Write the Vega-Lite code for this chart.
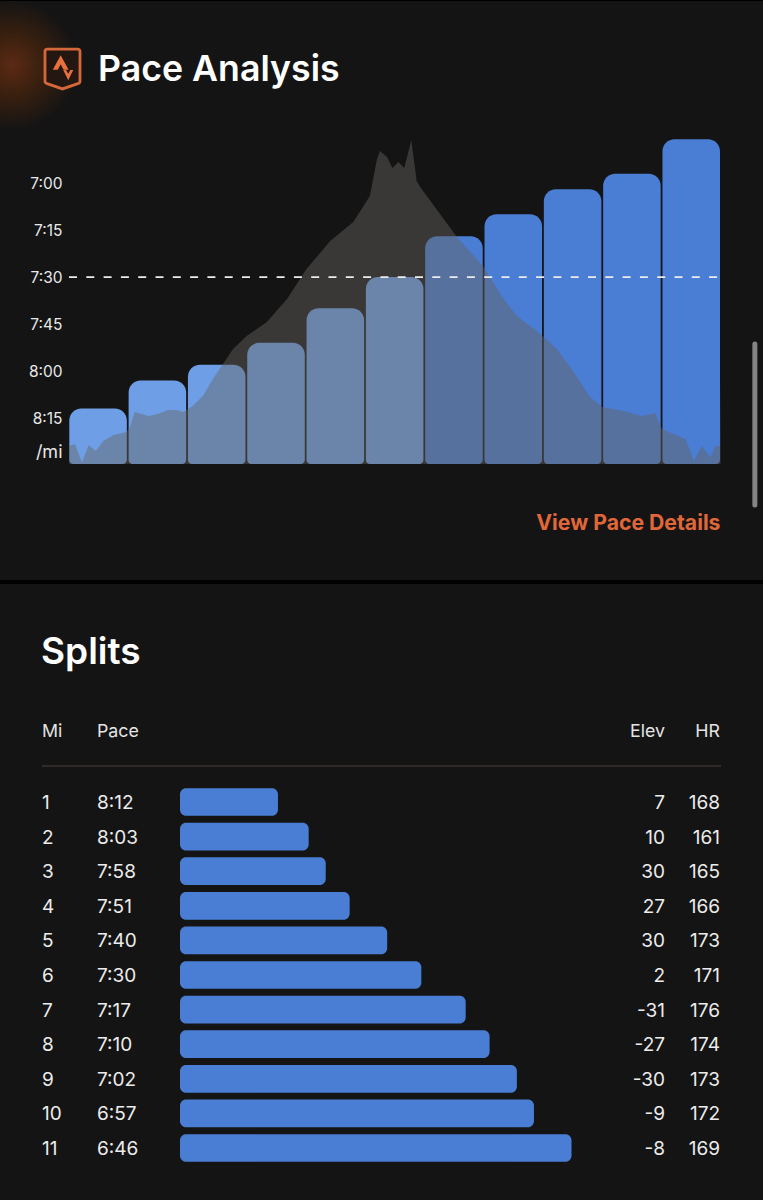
{
"$schema":"https://vega.github.io/schema/vega-lite/v6.json",
"background":"#000000",
"padding":{"left":0,"right":0,"top":1,"bottom":0},
"spacing":4,
"config":{"view":{"stroke":null,"fill":"#141414"},"concat":{"spacing":4},"text":{"font":"Inter"}},
"datasets":{
"splits":[
{"mile":1,"pace":"8:12","seconds":492,"elev":7,"hr":168},
{"mile":2,"pace":"8:03","seconds":483,"elev":10,"hr":161},
{"mile":3,"pace":"7:58","seconds":478,"elev":30,"hr":165},
{"mile":4,"pace":"7:51","seconds":471,"elev":27,"hr":166},
{"mile":5,"pace":"7:40","seconds":460,"elev":30,"hr":173},
{"mile":6,"pace":"7:30","seconds":450,"elev":2,"hr":171},
{"mile":7,"pace":"7:17","seconds":437,"elev":-31,"hr":176},
{"mile":8,"pace":"7:10","seconds":430,"elev":-27,"hr":174},
{"mile":9,"pace":"7:02","seconds":422,"elev":-30,"hr":173},
{"mile":10,"pace":"6:57","seconds":417,"elev":-9,"hr":172},
{"mile":11,"pace":"6:46","seconds":406,"elev":-8,"hr":169}],
"profile":[
{"d":0,"e":18},{"d":0.1,"e":20},{"d":0.22,"e":1.5},{"d":0.33,"e":19},{"d":0.45,"e":13},{"d":0.58,"e":23},{"d":0.75,"e":29},{"d":0.97,"e":32},{"d":1.03,"e":37},{"d":1.11,"e":52},{"d":1.34,"e":48},{"d":1.5,"e":50},{"d":1.67,"e":54},{"d":1.82,"e":54},{"d":1.93,"e":52},{"d":2.09,"e":58},{"d":2.26,"e":68},{"d":2.43,"e":85},{"d":2.6,"e":100},{"d":2.77,"e":115},{"d":3,"e":128},{"d":3.34,"e":142},{"d":3.68,"e":165},{"d":4.01,"e":195},{"d":4.41,"e":223},{"d":4.8,"e":242},{"d":5.08,"e":268},{"d":5.2,"e":305},{"d":5.25,"e":313},{"d":5.37,"e":307},{"d":5.46,"e":296},{"d":5.56,"e":302},{"d":5.66,"e":296},{"d":5.78,"e":324},{"d":5.87,"e":283},{"d":5.93,"e":277},{"d":6.55,"e":227},{"d":6.99,"e":198},{"d":7.34,"e":165},{"d":7.56,"e":148},{"d":7.9,"e":133},{"d":8.24,"e":115},{"d":8.52,"e":92},{"d":8.8,"e":67},{"d":9,"e":57},{"d":9.36,"e":53},{"d":9.67,"e":48},{"d":9.9,"e":51},{"d":10.01,"e":35},{"d":10.41,"e":25},{"d":10.55,"e":3},{"d":10.68,"e":18},{"d":10.83,"e":7},{"d":10.92,"e":18},{"d":10.99,"e":18},{"d":11,"e":92}]
},
"vconcat":[
{
"width":763,"height":579,
"data":{"values":[{}]},
"resolve":{"scale":{"x":"independent","y":"independent"}},
"layer":[
{"mark":{"type":"point","filled":true,"clip":true,"opacity":1,"fill":{"gradient":"radial","x1":0.5,"y1":0.5,"r1":0,"x2":0.5,"y2":0.5,"r2":0.5,"stops":[{"offset":0,"color":"#5c2a14"},{"offset":0.45,"color":"#3a200f"},{"offset":1,"color":"#141414"}]}},
 "encoding":{"x":{"datum":-0.96,"type":"quantitative","scale":{"domain":[0,11],"range":[69,720.5]},"axis":null},
 "y":{"datum":399,"type":"quantitative","scale":{"domain":[0,335],"range":[463,128],"nice":false,"zero":false},"axis":null},
 "size":{"value":17000}}},
{"data":{"name":"splits"},
 "mark":{"type":"bar","cornerRadiusTopLeft":12,"cornerRadiusTopRight":12,"cornerRadiusBottomLeft":4,"cornerRadiusBottomRight":4},
 "encoding":{"x":{"field":"mile","type":"ordinal","scale":{"range":[69.3,720],"paddingInner":0.03,"paddingOuter":0},"axis":null},
 "y":{"field":"seconds","type":"quantitative","scale":{"domain":[510,403.07],"range":[464,129],"nice":false,"zero":false},
  "axis":{"values":[420,435,450,465,480,495,506],"title":null,"domain":false,"ticks":false,"grid":false,"offset":-69,"labelPadding":7,"labelFont":"Inter","labelFontSize":{"condition":{"test":"datum.value==506","value":18},"value":15.5},"labelColor":"#e8e8e8","labelOverlap":false,"labelBound":false,"labelExpr":"datum.value==506?'/mi':floor(datum.value/60)+':'+(datum.value%60<10?'0':'')+(datum.value%60)"}},
 "y2":{"datum":509.7},
 "color":{"condition":{"test":"datum.seconds>=450","value":"#6e9fe6"},"value":"#4a7dd4"}}},
{"data":{"name":"profile"},
 "mark":{"type":"area","interpolate":"linear","color":"#686460","opacity":0.45},
 "encoding":{"x":{"field":"d","type":"quantitative","scale":{"domain":[0,11],"range":[69,720.5]},"axis":null},
 "y":{"field":"e","type":"quantitative","scale":{"domain":[0,335],"range":[463,128],"nice":false,"zero":false},"axis":null}}},
{"mark":{"type":"rule","color":"#ececec","strokeWidth":1.7,"strokeDash":[8,9.3]},
 "encoding":{"x":{"datum":0,"type":"quantitative","scale":{"domain":[0,11],"range":[69,720.5]},"axis":null},"x2":{"datum":11},
 "y":{"datum":450,"type":"quantitative","scale":{"domain":[510,403.07],"range":[464,129],"nice":false,"zero":false},"axis":null}}},
{"mark":{"type":"rule","color":"#858585","strokeWidth":5,"strokeCap":"round"},
 "encoding":{"x":{"datum":11.58,"type":"quantitative","scale":{"domain":[0,11],"range":[69,720.5]},"axis":null},
 "y":{"datum":120,"type":"quantitative","scale":{"domain":[0,335],"range":[463,128],"nice":false,"zero":false},"axis":null},"y2":{"datum":-41}}},
{"mark":{"type":"point","filled":true,"fill":"#241610","stroke":"#d4683a","strokeWidth":2.8,"opacity":1,"shape":"M-0.5,-0.5 Q-0.5,-0.57 -0.43,-0.57 L0.43,-0.57 Q0.5,-0.57 0.5,-0.5 L0.5,0.36 Q0.5,0.4 0.44,0.42 L0,0.57 L-0.44,0.42 Q-0.5,0.4 -0.5,0.36 Z"},
 "encoding":{"x":{"datum":-0.11,"type":"quantitative","scale":{"domain":[0,11],"range":[69,720.5]},"axis":null},
 "y":{"datum":395,"type":"quantitative","scale":{"domain":[0,335],"range":[463,128],"nice":false,"zero":false},"axis":null},"size":{"value":4900}}},
{"mark":{"type":"point","filled":true,"fill":"#e8703c","opacity":1,"shape":"M-0.05,-0.38 L0.17,0.02 L0.03,0.02 L-0.05,-0.13 L-0.13,0.02 L-0.27,0.02 Z M0.02,0.03 L0.1,0.03 L0.16,0.13 L0.22,0.03 L0.3,0.03 L0.16,0.31 Z"},
 "encoding":{"x":{"datum":-0.11,"type":"quantitative","scale":{"domain":[0,11],"range":[69,720.5]},"axis":null},
 "y":{"datum":395,"type":"quantitative","scale":{"domain":[0,335],"range":[463,128],"nice":false,"zero":false},"axis":null},"size":{"value":5184}}},
{"mark":{"type":"text","text":"Pace Analysis","font":"Inter","fontSize":35.7,"fontWeight":600,"color":"#ffffff","align":"left","baseline":"middle"},
 "encoding":{"x":{"datum":0.49,"type":"quantitative","scale":{"domain":[0,11],"range":[69,720.5]},"axis":null},
 "y":{"datum":394,"type":"quantitative","scale":{"domain":[0,335],"range":[463,128],"nice":false,"zero":false},"axis":null}}},
{"mark":{"type":"text","text":"View Pace Details","font":"Inter","fontSize":21.2,"fontWeight":700,"color":"#e0673a","align":"right","baseline":"middle"},
 "encoding":{"x":{"datum":11,"type":"quantitative","scale":{"domain":[0,11],"range":[69,720.5]},"axis":null},
 "y":{"datum":-60,"type":"quantitative","scale":{"domain":[0,335],"range":[463,128],"nice":false,"zero":false},"axis":null}}}
]},
{
"width":763,"height":616,
"data":{"values":[{}]},
"resolve":{"scale":{"x":"independent","y":"independent"}},
"layer":[
{"mark":{"type":"text","text":"Splits","font":"Inter","fontSize":37,"fontWeight":600,"color":"#ffffff","align":"left","baseline":"middle"},
 "encoding":{"x":{"datum":41,"type":"quantitative","scale":{"domain":[0,763],"range":[0,763]},"axis":null},"y":{"datum":69,"type":"quantitative","scale":{"domain":[0,616],"range":[0,616]},"axis":null}}},
{"mark":{"type":"text","text":"Mi","fontSize":17.8,"color":"#e4e4e4","align":"left","baseline":"middle"},
 "encoding":{"x":{"datum":42,"type":"quantitative","scale":{"domain":[0,763],"range":[0,763]},"axis":null},"y":{"datum":148,"type":"quantitative","scale":{"domain":[0,616],"range":[0,616]},"axis":null}}},
{"mark":{"type":"text","text":"Pace","fontSize":17.8,"color":"#e4e4e4","align":"left","baseline":"middle"},
 "encoding":{"x":{"datum":97,"type":"quantitative","scale":{"domain":[0,763],"range":[0,763]},"axis":null},"y":{"datum":148,"type":"quantitative","scale":{"domain":[0,616],"range":[0,616]},"axis":null}}},
{"mark":{"type":"text","text":"Elev","fontSize":17.8,"color":"#e4e4e4","align":"right","baseline":"middle"},
 "encoding":{"x":{"datum":665,"type":"quantitative","scale":{"domain":[0,763],"range":[0,763]},"axis":null},"y":{"datum":148,"type":"quantitative","scale":{"domain":[0,616],"range":[0,616]},"axis":null}}},
{"mark":{"type":"text","text":"HR","fontSize":17.8,"color":"#e4e4e4","align":"right","baseline":"middle"},
 "encoding":{"x":{"datum":720,"type":"quantitative","scale":{"domain":[0,763],"range":[0,763]},"axis":null},"y":{"datum":148,"type":"quantitative","scale":{"domain":[0,616],"range":[0,616]},"axis":null}}},
{"mark":{"type":"rule","color":"#38302e","strokeWidth":1.5},
 "encoding":{"x":{"datum":42,"type":"quantitative","scale":{"domain":[0,763],"range":[0,763]},"axis":null},"x2":{"datum":721},"y":{"datum":182,"type":"quantitative","scale":{"domain":[0,616],"range":[0,616]},"axis":null}}},
{"data":{"name":"splits"},
 "mark":{"type":"bar","cornerRadius":6,"color":"#4a7dd4"},
 "encoding":{"x":{"field":"seconds","type":"quantitative","scale":{"domain":[520.7,406],"range":[180,571.5],"nice":false,"zero":false},"axis":null},"x2":{"datum":520.7},
 "y":{"field":"mile","type":"ordinal","scale":{"range":[200.7,581.3],"paddingInner":0.2,"paddingOuter":0.1},"axis":null}}},
{"data":{"name":"splits"},
 "mark":{"type":"text","fontSize":19,"dy":1,"color":"#ececec","align":"left","baseline":"middle"},
 "encoding":{"text":{"field":"mile"},"x":{"datum":42,"type":"quantitative","scale":{"domain":[0,763],"range":[0,763]},"axis":null},
 "y":{"field":"mile","type":"ordinal","scale":{"range":[200.7,581.3],"paddingInner":0.2,"paddingOuter":0.1},"axis":null}}},
{"data":{"name":"splits"},
 "mark":{"type":"text","fontSize":19,"dy":1,"color":"#ececec","align":"left","baseline":"middle"},
 "encoding":{"text":{"field":"pace"},"x":{"datum":97,"type":"quantitative","scale":{"domain":[0,763],"range":[0,763]},"axis":null},
 "y":{"field":"mile","type":"ordinal","scale":{"range":[200.7,581.3],"paddingInner":0.2,"paddingOuter":0.1},"axis":null}}},
{"data":{"name":"splits"},
 "mark":{"type":"text","fontSize":19,"dy":1,"color":"#ececec","align":"right","baseline":"middle"},
 "encoding":{"text":{"field":"elev"},"x":{"datum":665,"type":"quantitative","scale":{"domain":[0,763],"range":[0,763]},"axis":null},
 "y":{"field":"mile","type":"ordinal","scale":{"range":[200.7,581.3],"paddingInner":0.2,"paddingOuter":0.1},"axis":null}}},
{"data":{"name":"splits"},
 "mark":{"type":"text","fontSize":19,"dy":1,"color":"#ececec","align":"right","baseline":"middle"},
 "encoding":{"text":{"field":"hr"},"x":{"datum":720,"type":"quantitative","scale":{"domain":[0,763],"range":[0,763]},"axis":null},
 "y":{"field":"mile","type":"ordinal","scale":{"range":[200.7,581.3],"paddingInner":0.2,"paddingOuter":0.1},"axis":null}}}
]}
]
}
